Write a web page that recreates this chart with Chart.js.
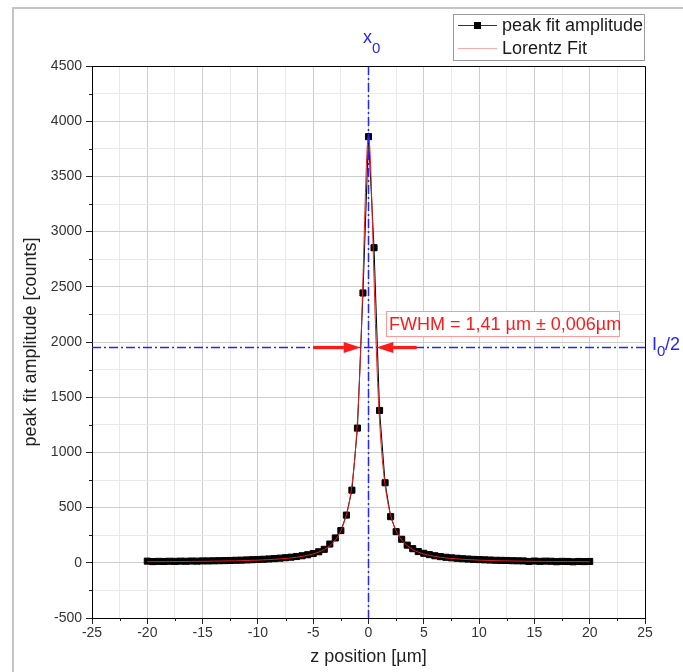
<!DOCTYPE html>
<html>
<head>
<meta charset="utf-8">
<script src="https://cdn.jsdelivr.net/npm/chart.js@4/dist/chart.umd.min.js"></script>
<style>
html,body{margin:0;padding:0;background:#fff;}
#wrap{width:683px;height:672px;position:relative;}
</style>
</head>
<body>
<div id="wrap"><canvas id="c"></canvas></div>
<script>
// ---- data ----
const zPositions = [-20,-19.5,-19,-18.5,-18,-17.5,-17,-16.5,-16,-15.5,-15,-14.5,-14,-13.5,-13,-12.5,-12,-11.5,-11,-10.5,-10,-9.5,-9,-8.5,-8,-7.5,-7,-6.5,-6,-5.5,-5,-4.5,-4,-3.5,-3,-2.5,-2,-1.5,-1,-0.5,0,0.5,1,1.5,2,2.5,3,3.5,4,4.5,5,5.5,6,6.5,7,7.5,8,8.5,9,9.5,10,10.5,11,11.5,12,12.5,13,13.5,14,14.5,15,15.5,16,16.5,17,17.5,18,18.5,19,19.5,20];
const peakAmplitudes = [15,11,13,12,14,13,15,14,16,15,17,17,18,19,20,21,23,24,26,28,30,32,35,38,42,46,51,57,64,73,84,100,122,170,225,292,432,658,1220,2444,3860,2854,1380,725,418,282,213,160,128,102,86,74,64,56,50,45,41,37,34,31,29,27,25,23,22,21,19,18,17,12,16,13,15,14,10,13,12,9,12,11,12];
const fitZ = [-20,-18,-16,-14,-12,-10,-9,-8,-7,-6,-5,-4.5,-4,-3.5,-3,-2.5,-2,-1.8,-1.6,-1.4,-1.2,-1,-0.9,-0.8,-0.7,-0.6,-0.5,-0.4,-0.3,-0.2,-0.1,0,0.1,0.2,0.3,0.4,0.5,0.6,0.7,0.8,0.9,1,1.2,1.4,1.6,1.8,2,2.5,3,3.5,4,4.5,5,6,7,8,9,10,12,14,16,18,20];
const fitAmplitudes = [10,11,12.5,15,18,24,29,35,44,58,80,97,121,156,207,289,432,518,633,786,995,1287,1473,1692,1949,2244,2573,2925,3273,3577,3789,3865,3789,3577,3273,2925,2573,2244,1949,1692,1473,1287,995,786,633,518,432,289,207,156,121,97,80,58,44,35,29,24,18,15,12.5,11,10];
const xTickLabels = [-25,-20,-15,-10,-5,0,5,10,15,20,25];
const yTickLabels = [-500,0,500,1000,1500,2000,2500,3000,3500,4000,4500];
const seriesNames = ['peak fit amplitude','Lorentz Fit'];
const centerZ = 0;
const halfMaximum = 1950;
const fwhmEdges = [-0.705, 0.705];
const arrowOuter = [-5, 4.35];
const fwhmText = 'FWHM = 1,41 \u00b5m \u00b1 0,006\u00b5m';

// ---- styles ----
const FONT = "'Liberation Sans', Arial, Helvetica, sans-serif";
const BLUE = '#2424ff';
const RED = '#ff1a1a';
const FIT_RED = '#e22020';
const MAJOR_GRID = '#cdcdcd';
const MINOR_GRID = '#e9e9e9';

const data = zPositions.map((z,i)=>({x:z,y:peakAmplitudes[i]}));
const fit = fitZ.map((z,i)=>({x:z,y:fitAmplitudes[i]}));

function isMajor(v, step){ return Math.abs(v/step - Math.round(v/step)) < 1e-6; }

const decor = {
  id:'decor',
  afterDatasetsDraw(chart){
    const {ctx, chartArea:a, scales:{x,y}} = chart;
    ctx.save();
    ctx.strokeStyle = BLUE; ctx.lineWidth = 1.5; ctx.setLineDash([9,3,2,3]);
    const px0 = x.getPixelForValue(centerZ);
    ctx.beginPath(); ctx.moveTo(px0, a.top); ctx.lineTo(px0, a.bottom); ctx.stroke();
    const pyh = y.getPixelForValue(halfMaximum);
    ctx.beginPath(); ctx.moveTo(a.left, pyh); ctx.lineTo(a.right, pyh); ctx.stroke();
    ctx.setLineDash([]);
    // red arrows
    ctx.strokeStyle = RED; ctx.fillStyle = RED; ctx.lineWidth = 3.3;
    function arrow(fromV, tipV){
      const f = x.getPixelForValue(fromV), t = x.getPixelForValue(tipV);
      const dir = Math.sign(t - f); const base = t - dir*17;
      ctx.beginPath(); ctx.moveTo(f, pyh); ctx.lineTo(base, pyh); ctx.stroke();
      ctx.beginPath(); ctx.moveTo(t, pyh); ctx.lineTo(base, pyh-5.5); ctx.lineTo(base, pyh+5.5); ctx.closePath(); ctx.fill();
    }
    arrow(arrowOuter[0], fwhmEdges[0]);
    arrow(arrowOuter[1], fwhmEdges[1]);
    // FWHM box
    ctx.fillStyle = '#fff'; ctx.fillRect(386, 311, 233, 25);
    ctx.strokeStyle = '#ff9a9a'; ctx.lineWidth = 1; ctx.strokeRect(386.5, 311.5, 233, 25);
    ctx.fillStyle = RED; ctx.font = '18px ' + FONT; ctx.textBaseline = 'alphabetic'; ctx.textAlign = 'left';
    ctx.fillText(fwhmText, 389, 330);
    ctx.restore();
  },
  afterDraw(chart){
    const {ctx, chartArea:a, scales:{x,y}} = chart;
    ctx.save();
    // plot frame top/right
    ctx.strokeStyle = '#000'; ctx.lineWidth = 1;
    ctx.beginPath(); ctx.moveTo(a.left, a.top+0.5); ctx.lineTo(a.right+0.5, a.top+0.5); ctx.lineTo(a.right+0.5, a.bottom); ctx.stroke();
    // minor ticks
    ctx.strokeStyle = '#222';
    for (const t of y.ticks){ if (!isMajor(t.value,500)){ const p = Math.round(y.getPixelForValue(t.value))+0.5; ctx.beginPath(); ctx.moveTo(a.left-3,p); ctx.lineTo(a.left,p); ctx.stroke(); } }
    for (const t of x.ticks){ if (!isMajor(t.value,5)){ const p = Math.round(x.getPixelForValue(t.value))+0.5; ctx.beginPath(); ctx.moveTo(p,a.bottom); ctx.lineTo(p,a.bottom+3); ctx.stroke(); } }
    // outer page frame
    ctx.strokeStyle = '#c4c4c4'; ctx.lineWidth = 2;
    ctx.beginPath(); ctx.moveTo(13, 672); ctx.lineTo(13, 8); ctx.lineTo(683, 8); ctx.stroke();
    // legend
    ctx.fillStyle = '#fff'; ctx.fillRect(453,14,192,47);
    ctx.strokeStyle = '#9a9a9a'; ctx.lineWidth = 1; ctx.strokeRect(453.5,14.5,191,46);
    ctx.strokeStyle = '#333'; ctx.beginPath(); ctx.moveTo(458,25.5); ctx.lineTo(497,25.5); ctx.stroke();
    ctx.fillStyle = '#000'; ctx.fillRect(474,22,7,7);
    ctx.strokeStyle = '#ffaaaa'; ctx.beginPath(); ctx.moveTo(458,48.5); ctx.lineTo(497,48.5); ctx.stroke();
    ctx.fillStyle = '#1a1a1a'; ctx.font = '18px ' + FONT; ctx.textAlign='left'; ctx.textBaseline='alphabetic';
    ctx.fillText(seriesNames[0], 502, 31);
    ctx.fillText(seriesNames[1], 502, 54);
    // x0 label
    ctx.fillStyle = BLUE;
    ctx.font = '18px ' + FONT; ctx.fillText('x', 363, 43);
    ctx.font = '15px ' + FONT; ctx.fillText('0', 372, 53);
    // I0/2 label
    ctx.font = '18px ' + FONT; ctx.fillText('I', 652, 350);
    ctx.font = '15px ' + FONT; ctx.fillText('0', 657, 356);
    ctx.font = '18px ' + FONT; ctx.fillText('/2', 665, 350);
    ctx.restore();
  }
};

Chart.defaults.font.family = FONT;
new Chart(document.getElementById('c'), {
  type: 'scatter',
  data: {
    datasets: [
      { label: seriesNames[1], data: fit, showLine: true, borderColor: FIT_RED, borderWidth: 1, pointRadius: 0, cubicInterpolationMode: 'monotone', order: 0 },
      { label: seriesNames[0], data: data, showLine: true, borderColor: '#000', borderWidth: 1, pointStyle: 'rect', pointRadius: 4.3, pointBackgroundColor: '#000', pointBorderColor: '#000', pointBorderWidth: 1, order: 1 }
    ]
  },
  options: {
    responsive: true, maintainAspectRatio: false, devicePixelRatio: 1, animation: false, events: [],
    layout: { padding: { left: 0, right: 38, top: 66, bottom: 0 } },
    plugins: { legend: { display: false }, tooltip: { enabled: false } },
    scales: {
      x: {
        type: 'linear', min: -25, max: 25,
        afterFit: s => { s.height = 54; },
        ticks: { stepSize: 2.5, autoSkip: false, maxRotation: 0, padding: 1, color: '#333', font: { size: 14 },
          callback: v => xTickLabels.includes(v) ? String(v) : '' },
        grid: { color: c => isMajor(c.tick.value,5) ? MAJOR_GRID : MINOR_GRID, tickColor: c => isMajor(c.tick.value,5) ? '#222' : 'rgba(0,0,0,0)', tickLength: 6, lineWidth: 1 },
        border: { color: '#000', width: 1 },
        title: { display: true, text: 'z position [\u00b5m]', color: '#222', font: { size: 18 }, padding: { top: 0, bottom: 4 } }
      },
      y: {
        type: 'linear', min: -500, max: 4500,
        afterFit: s => { s.width = 92; },
        ticks: { stepSize: 250, autoSkip: false, padding: 4, color: '#333', font: { size: 14 },
          callback: v => yTickLabels.includes(v) ? String(v) : '' },
        grid: { color: c => isMajor(c.tick.value,500) ? MAJOR_GRID : MINOR_GRID, tickColor: c => isMajor(c.tick.value,500) ? '#222' : 'rgba(0,0,0,0)', tickLength: 6, lineWidth: 1 },
        border: { color: '#000', width: 1 },
        title: { display: true, text: 'peak fit amplitude [counts]', color: '#222', font: { size: 18 }, padding: { top: 20, bottom: 0 } }
      }
    }
  },
  plugins: [decor]
});
</script>
</body>
</html>
